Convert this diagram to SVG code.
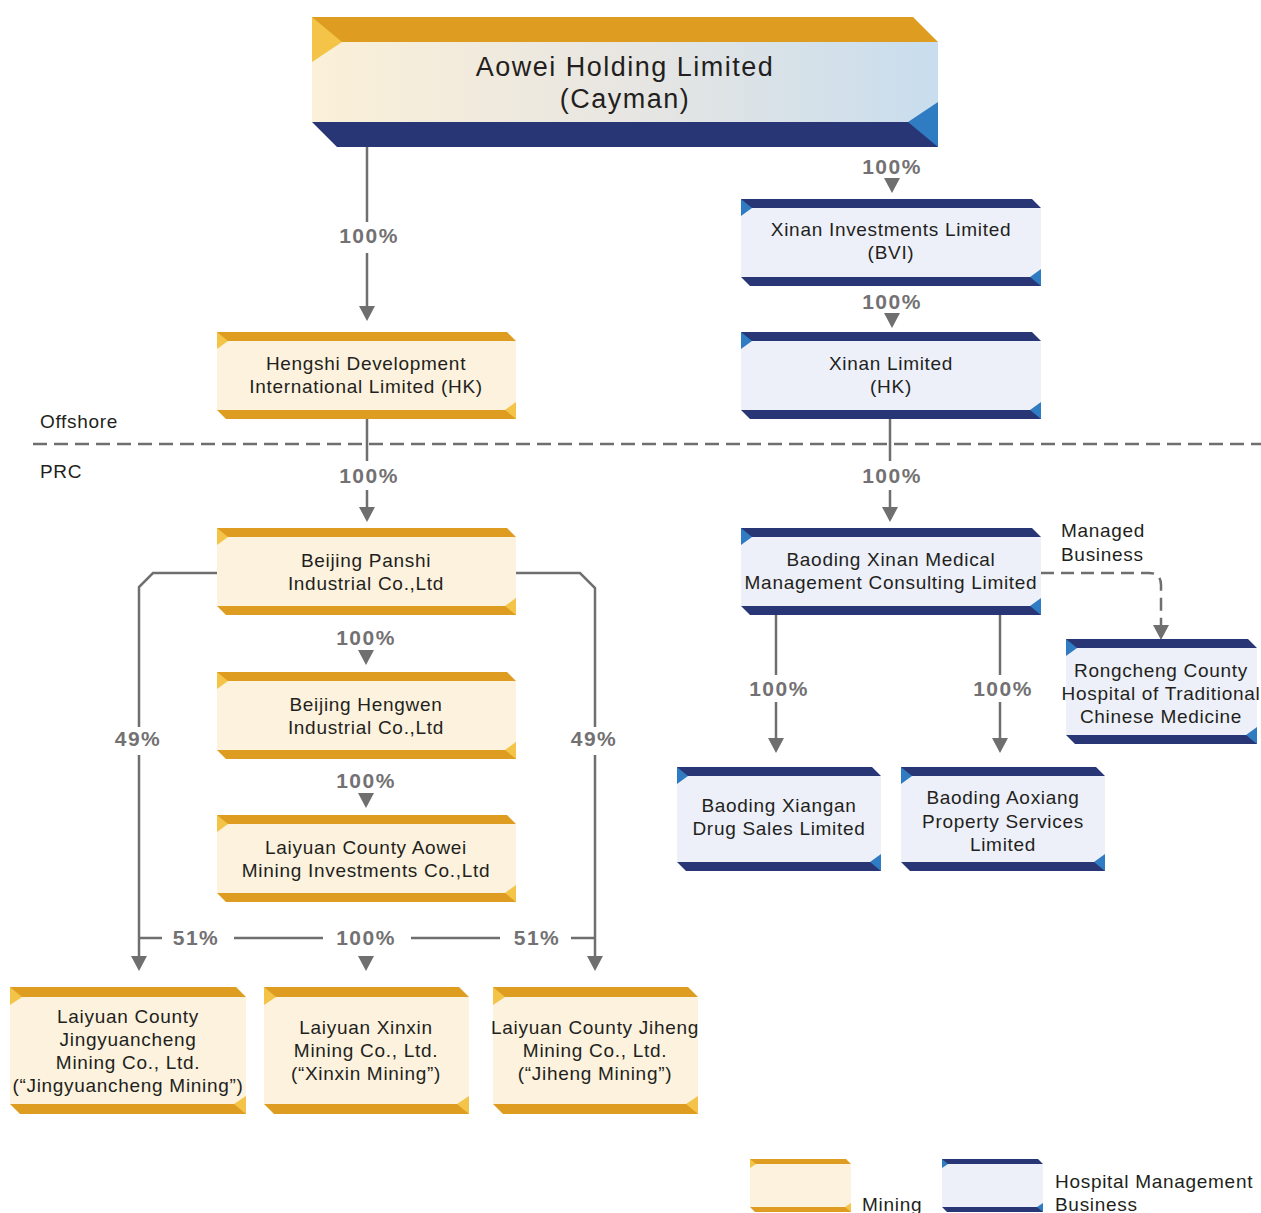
<svg xmlns="http://www.w3.org/2000/svg" width="1261" height="1213" viewBox="0 0 1261 1213">
<defs>
<linearGradient id="tg" x1="0" y1="0" x2="1" y2="0">
<stop offset="0" stop-color="#FBF0D8"/>
<stop offset="0.5" stop-color="#E8E6E2"/>
<stop offset="1" stop-color="#C8DDEE"/>
</linearGradient>
</defs>
<style>
.mf{fill:#FCF2DE}
.gb{fill:#DE9D21}
.gt{fill:#F3C447}
.hf{fill:#EDF0F9}
.nb{fill:#283676}
.bt{fill:#2F7CC2}
.t{font-family:"Liberation Sans",Arial,sans-serif;font-size:19px;letter-spacing:0.7px;fill:#231F20;text-anchor:middle}
.tl{font-family:"Liberation Sans",Arial,sans-serif;font-size:19px;letter-spacing:0.7px;fill:#231F20}
.p{font-family:"Liberation Sans",Arial,sans-serif;font-size:21px;font-weight:bold;letter-spacing:1.5px;fill:#737173;text-anchor:middle}
.c{fill:none;stroke:#706F70;stroke-width:2.5}
.ar{fill:#706F70}
</style>

<g id="offshore-divider">
<line x1="33" y1="444" x2="1261" y2="444" stroke="#706F70" stroke-width="2.5" stroke-dasharray="14 7"/>
<text class="tl" x="40" y="428">Offshore</text>
<text class="tl" x="40" y="478">PRC</text>
</g>

<g id="connectors">
<line class="c" x1="367" y1="147" x2="367" y2="222"/>
<line class="c" x1="367" y1="253" x2="367" y2="307"/>
<polygon class="ar" points="359,306 375,306 367,321"/>
<text class="p" x="369" y="243">100%</text>

<text class="p" x="892" y="174">100%</text>
<polygon class="ar" points="884,178 900,178 892,193"/>

<text class="p" x="892" y="309">100%</text>
<polygon class="ar" points="884,313 900,313 892,328"/>

<line class="c" x1="367" y1="419" x2="367" y2="461"/>
<line class="c" x1="367" y1="490" x2="367" y2="508"/>
<polygon class="ar" points="359,507 375,507 367,522"/>
<text class="p" x="369" y="483">100%</text>

<line class="c" x1="890" y1="419" x2="890" y2="461"/>
<line class="c" x1="890" y1="490" x2="890" y2="508"/>
<polygon class="ar" points="882,507 898,507 890,522"/>
<text class="p" x="892" y="483">100%</text>

<text class="p" x="366" y="645">100%</text>
<polygon class="ar" points="358,650 374,650 366,665"/>

<text class="p" x="366" y="788">100%</text>
<polygon class="ar" points="358,793 374,793 366,808"/>

<text class="p" x="366" y="945">100%</text>
<polygon class="ar" points="358,956 374,956 366,971"/>

<line class="c" x1="139" y1="938" x2="162" y2="938"/>
<line class="c" x1="234" y1="938" x2="323" y2="938"/>
<line class="c" x1="411" y1="938" x2="500" y2="938"/>
<line class="c" x1="571" y1="938" x2="595" y2="938"/>
<text class="p" x="196" y="945">51%</text>
<text class="p" x="537" y="945">51%</text>

<polyline class="c" points="217,573 153,573 139,587 139,727"/>
<line class="c" x1="139" y1="755" x2="139" y2="957"/>
<polygon class="ar" points="131,956 147,956 139,971"/>
<text class="p" x="138" y="746">49%</text>

<polyline class="c" points="516,573 580,573 595,588 595,727"/>
<line class="c" x1="595" y1="755" x2="595" y2="957"/>
<polygon class="ar" points="587,956 603,956 595,971"/>
<text class="p" x="594" y="746">49%</text>

<line class="c" x1="776" y1="615" x2="776" y2="675"/>
<line class="c" x1="776" y1="702" x2="776" y2="739"/>
<polygon class="ar" points="768,738 784,738 776,753"/>
<text class="p" x="779" y="696">100%</text>

<line class="c" x1="1000" y1="615" x2="1000" y2="675"/>
<line class="c" x1="1000" y1="702" x2="1000" y2="739"/>
<polygon class="ar" points="992,738 1008,738 1000,753"/>
<text class="p" x="1003" y="696">100%</text>

<path class="c" d="M1041,573 H1149 Q1161,573 1161,585 V626" stroke-dasharray="13 7"/>
<polygon class="ar" points="1153,625 1169,625 1161,640"/>
<text class="tl" x="1061" y="537">Managed</text>
<text class="tl" x="1061" y="561">Business</text>
</g>

<g id="aowei-holding">
<rect x="312" y="42" width="626" height="80" fill="url(#tg)"/>
<polygon class="gb" points="312,17 913,17 938,42 312,42"/>
<polygon class="gt" points="312,17 342,42 312,62"/>
<polygon class="nb" points="312,122 938,122 938,147 337,147"/>
<polygon class="bt" points="938,102 908,122 938,147"/>
<text class="t" x="625" y="76" style="font-size:27px;letter-spacing:1.5px">Aowei Holding Limited</text>
<text class="t" x="625" y="108" style="font-size:27px;letter-spacing:1.5px">(Cayman)</text>
</g>

<g id="hengshi">
<rect class="mf" x="217" y="341" width="299" height="69"/>
<polygon class="gb" points="217,332 507,332 516,341 217,341"/>
<polygon class="gt" points="217,332 228,341 217,349"/>
<polygon class="gb" points="217,410 516,410 516,419 226,419"/>
<polygon class="gt" points="516,402 505,410 516,419"/>
<text class="t" x="366" y="370">Hengshi Development</text>
<text class="t" x="366" y="393">International Limited (HK)</text>
</g>

<g id="panshi">
<rect class="mf" x="217" y="537" width="299" height="69"/>
<polygon class="gb" points="217,528 507,528 516,537 217,537"/>
<polygon class="gt" points="217,528 228,537 217,545"/>
<polygon class="gb" points="217,606 516,606 516,615 226,615"/>
<polygon class="gt" points="516,598 505,606 516,615"/>
<text class="t" x="366" y="567">Beijing Panshi</text>
<text class="t" x="366" y="590">Industrial Co.,Ltd</text>
</g>

<g id="hengwen">
<rect class="mf" x="217" y="681" width="299" height="69"/>
<polygon class="gb" points="217,672 507,672 516,681 217,681"/>
<polygon class="gt" points="217,672 228,681 217,689"/>
<polygon class="gb" points="217,750 516,750 516,759 226,759"/>
<polygon class="gt" points="516,742 505,750 516,759"/>
<text class="t" x="366" y="711">Beijing Hengwen</text>
<text class="t" x="366" y="734">Industrial Co.,Ltd</text>
</g>

<g id="laiyuan-aowei">
<rect class="mf" x="217" y="824" width="299" height="69"/>
<polygon class="gb" points="217,815 507,815 516,824 217,824"/>
<polygon class="gt" points="217,815 228,824 217,832"/>
<polygon class="gb" points="217,893 516,893 516,902 226,902"/>
<polygon class="gt" points="516,885 505,893 516,902"/>
<text class="t" x="366" y="854">Laiyuan County Aowei</text>
<text class="t" x="366" y="877">Mining Investments Co.,Ltd</text>
</g>

<g id="jingyuancheng">
<rect class="mf" x="10" y="997" width="236" height="107"/>
<polygon class="gb" points="10,987 236,987 246,997 10,997"/>
<polygon class="gt" points="10,987 22,997 10,1005"/>
<polygon class="gb" points="10,1104 246,1104 246,1114 20,1114"/>
<polygon class="gt" points="246,1096 234,1104 246,1114"/>
<text class="t" x="128" y="1023">Laiyuan County</text>
<text class="t" x="128" y="1046">Jingyuancheng</text>
<text class="t" x="128" y="1069">Mining Co., Ltd.</text>
<text class="t" x="128" y="1092">(“Jingyuancheng Mining”)</text>
</g>

<g id="xinxin">
<rect class="mf" x="264" y="997" width="205" height="107"/>
<polygon class="gb" points="264,987 459,987 469,997 264,997"/>
<polygon class="gt" points="264,987 276,997 264,1005"/>
<polygon class="gb" points="264,1104 469,1104 469,1114 274,1114"/>
<polygon class="gt" points="469,1096 457,1104 469,1114"/>
<text class="t" x="366" y="1034">Laiyuan Xinxin</text>
<text class="t" x="366" y="1057">Mining Co., Ltd.</text>
<text class="t" x="366" y="1080">(“Xinxin Mining”)</text>
</g>

<g id="jiheng">
<rect class="mf" x="493" y="997" width="205" height="107"/>
<polygon class="gb" points="493,987 688,987 698,997 493,997"/>
<polygon class="gt" points="493,987 505,997 493,1005"/>
<polygon class="gb" points="493,1104 698,1104 698,1114 503,1114"/>
<polygon class="gt" points="698,1096 686,1104 698,1114"/>
<text class="t" x="595" y="1034">Laiyuan County Jiheng</text>
<text class="t" x="595" y="1057">Mining Co., Ltd.</text>
<text class="t" x="595" y="1080">(“Jiheng Mining”)</text>
</g>

<g id="xinan-bvi">
<rect class="hf" x="741" y="208" width="300" height="69"/>
<polygon class="nb" points="741,199 1032,199 1041,208 741,208"/>
<polygon class="bt" points="741,199 752,208 741,216"/>
<polygon class="nb" points="741,277 1041,277 1041,286 750,286"/>
<polygon class="bt" points="1041,269 1030,277 1041,286"/>
<text class="t" x="891" y="236">Xinan Investments Limited</text>
<text class="t" x="891" y="259">(BVI)</text>
</g>

<g id="xinan-hk">
<rect class="hf" x="741" y="341" width="300" height="69"/>
<polygon class="nb" points="741,332 1032,332 1041,341 741,341"/>
<polygon class="bt" points="741,332 752,341 741,349"/>
<polygon class="nb" points="741,410 1041,410 1041,419 750,419"/>
<polygon class="bt" points="1041,402 1030,410 1041,419"/>
<text class="t" x="891" y="370">Xinan Limited</text>
<text class="t" x="891" y="393">(HK)</text>
</g>

<g id="baoding-xinan">
<rect class="hf" x="741" y="537" width="300" height="69"/>
<polygon class="nb" points="741,528 1032,528 1041,537 741,537"/>
<polygon class="bt" points="741,528 752,537 741,545"/>
<polygon class="nb" points="741,606 1041,606 1041,615 750,615"/>
<polygon class="bt" points="1041,598 1030,606 1041,615"/>
<text class="t" x="891" y="566">Baoding Xinan Medical</text>
<text class="t" x="891" y="589">Management Consulting Limited</text>
</g>

<g id="xiangan">
<rect class="hf" x="677" y="776" width="204" height="86"/>
<polygon class="nb" points="677,767 872,767 881,776 677,776"/>
<polygon class="bt" points="677,767 688,776 677,784"/>
<polygon class="nb" points="677,862 881,862 881,871 686,871"/>
<polygon class="bt" points="881,854 870,862 881,871"/>
<text class="t" x="779" y="812">Baoding Xiangan</text>
<text class="t" x="779" y="835">Drug Sales Limited</text>
</g>

<g id="aoxiang">
<rect class="hf" x="901" y="776" width="204" height="86"/>
<polygon class="nb" points="901,767 1096,767 1105,776 901,776"/>
<polygon class="bt" points="901,767 912,776 901,784"/>
<polygon class="nb" points="901,862 1105,862 1105,871 910,871"/>
<polygon class="bt" points="1105,854 1094,862 1105,871"/>
<text class="t" x="1003" y="804">Baoding Aoxiang</text>
<text class="t" x="1003" y="828">Property Services</text>
<text class="t" x="1003" y="851">Limited</text>
</g>

<g id="rongcheng">
<rect class="hf" x="1066" y="648" width="191" height="87"/>
<polygon class="nb" points="1066,639 1248,639 1257,648 1066,648"/>
<polygon class="bt" points="1066,639 1077,648 1066,656"/>
<polygon class="nb" points="1066,735 1257,735 1257,744 1075,744"/>
<polygon class="bt" points="1257,727 1246,735 1257,744"/>
<text class="t" x="1161" y="677">Rongcheng County</text>
<text class="t" x="1161" y="700">Hospital of Traditional</text>
<text class="t" x="1161" y="723">Chinese Medicine</text>
</g>

<g id="legend">
<rect class="mf" x="750" y="1164" width="101" height="43"/>
<polygon class="gb" points="750,1159 846,1159 851,1164 750,1164"/>
<polygon class="gt" points="750,1159 756,1164 750,1168"/>
<polygon class="gb" points="750,1207 851,1207 851,1212 755,1212"/>
<polygon class="gt" points="851,1203 845,1207 851,1212"/>
<text class="tl" x="862" y="1211">Mining</text>
<rect class="hf" x="942" y="1164" width="101" height="43"/>
<polygon class="nb" points="942,1159 1038,1159 1043,1164 942,1164"/>
<polygon class="bt" points="942,1159 948,1164 942,1168"/>
<polygon class="nb" points="942,1207 1043,1207 1043,1212 947,1212"/>
<polygon class="bt" points="1043,1203 1037,1207 1043,1212"/>
<text class="tl" x="1055" y="1188">Hospital Management</text>
<text class="tl" x="1055" y="1211">Business</text>
</g>
</svg>
